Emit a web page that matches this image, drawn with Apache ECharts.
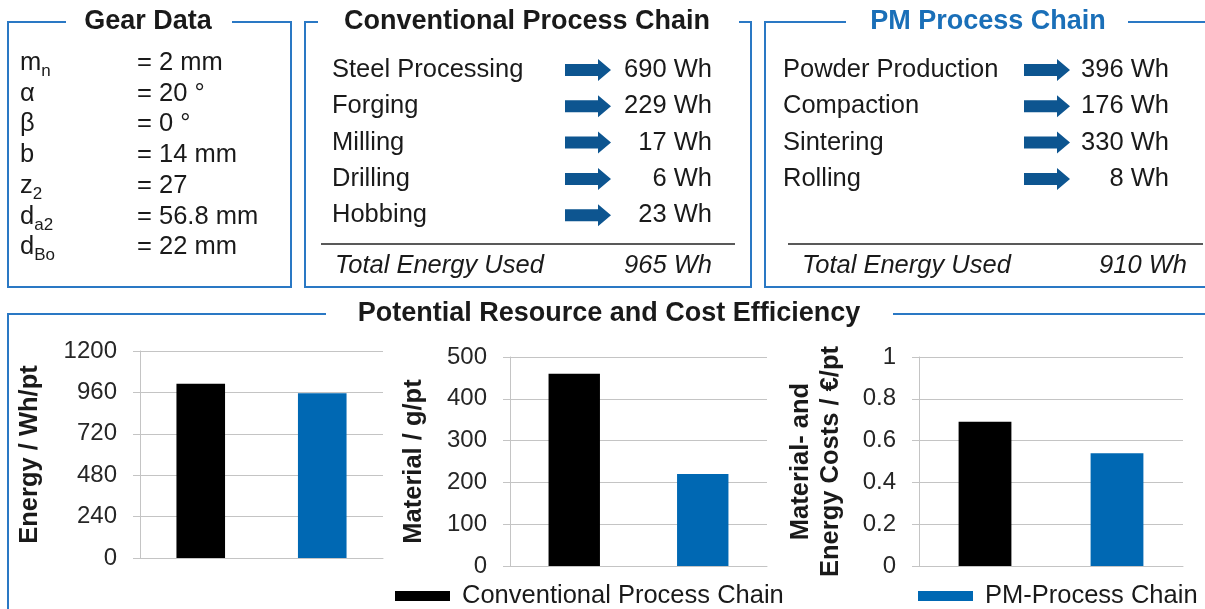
<!DOCTYPE html>
<html>
<head>
<meta charset="utf-8">
<script src="https://cdn.jsdelivr.net/npm/echarts@6/dist/echarts.min.js"></script>
<style>
html,body{margin:0;padding:0;background:#fff;}
#main{width:1205px;height:609px;}
</style>
</head>
<body>
<div id="main"></div>
<script>
// ---------- data ----------
const gearSymbols = ['m', 'α', 'β', 'b', 'z', 'd', 'd'];
const gearSubs = ['n', '', '', '', '2', 'a2', 'Bo'];
const gearValues = ['= 2 mm', '= 20 °', '= 0 °', '= 14 mm', '= 27', '= 56.8 mm', '= 22 mm'];

const convSteps = ['Steel Processing', 'Forging', 'Milling', 'Drilling', 'Hobbing'];
const convEnergy = [690, 229, 17, 6, 23];
const convTotal = 965;

const pmSteps = ['Powder Production', 'Compaction', 'Sintering', 'Rolling'];
const pmEnergy = [396, 176, 330, 8];
const pmTotal = 910;

const chains = ['Conventional Process Chain', 'PM-Process Chain'];
const energyPerPart = [1010, 955];
const materialPerPart = [460, 220];
const costPerPart = [0.69, 0.54];

const energyTicks = { max: 1200, interval: 240 };
const materialTicks = { max: 500, interval: 100 };
const costTicks = { max: 1, interval: 0.2 };

// ---------- styles ----------
const FONT = "'Liberation Sans', Arial, sans-serif";
const TXT = '#1a1a1a';
const BOX = '#2a78c4';
const ARROW = '#0d5590';
const BLUE = '#0068b3';
const GRIDC = '#c4c4c4';

const chart = echarts.init(document.getElementById('main'));
const g = [];

function box(left, top, right, bottom, gapL, gapR) {
  g.push({
    type: 'polyline', silent: true,
    shape: { points: [[gapL, top], [left, top], [left, bottom], [right, bottom], [right, top], [gapR, top]] },
    style: { stroke: BOX, lineWidth: 2, fill: null }
  });
}
function text(x, y, str, opts) {
  g.push({
    type: 'text', x: x, y: y, silent: true,
    style: Object.assign({ text: str, fill: TXT, font: '25.5px ' + FONT, align: 'left', verticalAlign: 'middle' }, opts || {})
  });
}
function arrow(x, y) {
  g.push({
    type: 'polygon', silent: true,
    shape: { points: [[x, y - 6], [x + 33, y - 6], [x + 33, y - 11], [x + 46, y], [x + 33, y + 11], [x + 33, y + 6], [x, y + 6]] },
    style: { fill: ARROW }
  });
}
function hline(x1, x2, y) {
  g.push({ type: 'line', silent: true, shape: { x1: x1, y1: y, x2: x2, y2: y }, style: { stroke: '#222', lineWidth: 1.3 } });
}

// Gear data box
box(8, 22, 291, 287, 66, 232);
text(148, 22, 'Gear Data', { font: 'bold 27px ' + FONT, align: 'center' });
gearSymbols.forEach((s, i) => {
  const y = 63 + i * 30.7;
  g.push({
    type: 'text', x: 20, y: y - 17, silent: true,
    style: {
      text: '{m|' + s + '}' + (gearSubs[i] ? '{s|' + gearSubs[i] + '}' : ''),
      fill: TXT, align: 'left', verticalAlign: 'top',
      rich: {
        m: { font: '25.5px ' + FONT, fill: TXT, lineHeight: 34 },
        s: { font: '17px ' + FONT, fill: TXT, lineHeight: 16, verticalAlign: 'bottom' }
      }
    }
  });
  text(137, y, gearValues[i]);
});

// Conventional chain box
box(305, 22, 751, 287, 318, 739);
text(527, 22, 'Conventional Process Chain', { font: 'bold 27px ' + FONT, align: 'center' });
convSteps.forEach((s, i) => {
  const y = 70 + i * 36.3;
  text(332, y, s);
  arrow(565, y);
  text(712, y, convEnergy[i] + ' Wh', { align: 'right' });
});
hline(321, 735, 244);
text(335, 266, 'Total Energy Used', { font: 'italic 25.5px ' + FONT });
text(712, 266, convTotal + ' Wh', { font: 'italic 25.5px ' + FONT, align: 'right' });

// PM chain box
box(765, 22, 1210, 287, 846, 1128);
text(988, 22, 'PM Process Chain', { font: 'bold 27px ' + FONT, align: 'center', fill: '#1a6fb8' });
pmSteps.forEach((s, i) => {
  const y = 70 + i * 36.3;
  text(783, y, s);
  arrow(1024, y);
  text(1169, y, pmEnergy[i] + ' Wh', { align: 'right' });
});
hline(788, 1203, 244);
text(802, 266, 'Total Energy Used', { font: 'italic 25.5px ' + FONT });
text(1187, 266, pmTotal + ' Wh', { font: 'italic 25.5px ' + FONT, align: 'right' });

// Bottom box
box(8, 314, 1210, 640, 326, 893);
text(609, 314, 'Potential Resource and Cost Efficiency', { font: 'bold 27px ' + FONT, align: 'center' });

// ---------- bar charts ----------
const grids = [
  { left: 140, right: 1205 - 383, top: 351, bottom: 609 - 558 },
  { left: 510, right: 1205 - 767, top: 357, bottom: 609 - 566 },
  { left: 919, right: 1205 - 1183, top: 357, bottom: 609 - 566 }
];
const panelData = [energyPerPart, materialPerPart, costPerPart];
const panelTicks = [energyTicks, materialTicks, costTicks];
const panelNames = ['Energy / Wh/pt', 'Material / g/pt', 'Material- and\nEnergy Costs / €/pt'];
const nameGaps = [95, 81, 73];

const xAxes = [], yAxes = [], series = [];
grids.forEach((gr, i) => {
  xAxes.push({
    gridIndex: i, type: 'category', data: chains,
    axisLine: { show: true, lineStyle: { color: GRIDC, width: 1 } },
    axisTick: { show: false }, axisLabel: { show: false }
  });
  yAxes.push({
    gridIndex: i, type: 'value', min: 0, max: panelTicks[i].max, interval: panelTicks[i].interval,
    name: panelNames[i], nameLocation: 'middle', nameRotate: 90, nameGap: nameGaps[i],
    nameTextStyle: { fontFamily: FONT, fontWeight: 'bold', fontSize: 25.5, color: TXT, lineHeight: 30 },
    axisLine: { show: true, lineStyle: { color: GRIDC, width: 1 } },
    axisTick: { show: true, length: 7, lineStyle: { color: GRIDC } },
    axisLabel: { fontFamily: FONT, fontSize: 24, color: '#262626', margin: 23, formatter: v => String(v) },
    splitLine: { show: true, lineStyle: { color: GRIDC, width: 1 } }
  });
  series.push({
    type: 'bar', name: chains[0], xAxisIndex: i, yAxisIndex: i, stack: 's' + i,
    barWidth: '40%', data: [panelData[i][0], '-'],
    itemStyle: { color: '#000' }
  });
  series.push({
    type: 'bar', name: chains[1], xAxisIndex: i, yAxisIndex: i, stack: 's' + i,
    barWidth: '40%', data: ['-', panelData[i][1]],
    itemStyle: { color: BLUE }
  });
});

chart.setOption({
  animation: false,
  grid: grids,
  xAxis: xAxes,
  yAxis: yAxes,
  series: series,
  legend: [
    {
      data: [chains[0]], left: 390, top: 578, icon: 'rect', itemWidth: 55, itemHeight: 10,
      selectedMode: false,
      textStyle: { fontFamily: FONT, fontSize: 25.5, color: TXT, padding: [0, 0, 0, 7] }
    },
    {
      data: [chains[1]], left: 913, top: 578, icon: 'rect', itemWidth: 55, itemHeight: 10,
      selectedMode: false,
      textStyle: { fontFamily: FONT, fontSize: 25.5, color: TXT, padding: [0, 0, 0, 7] }
    }
  ],
  graphic: g
});
</script>
</body>
</html>
